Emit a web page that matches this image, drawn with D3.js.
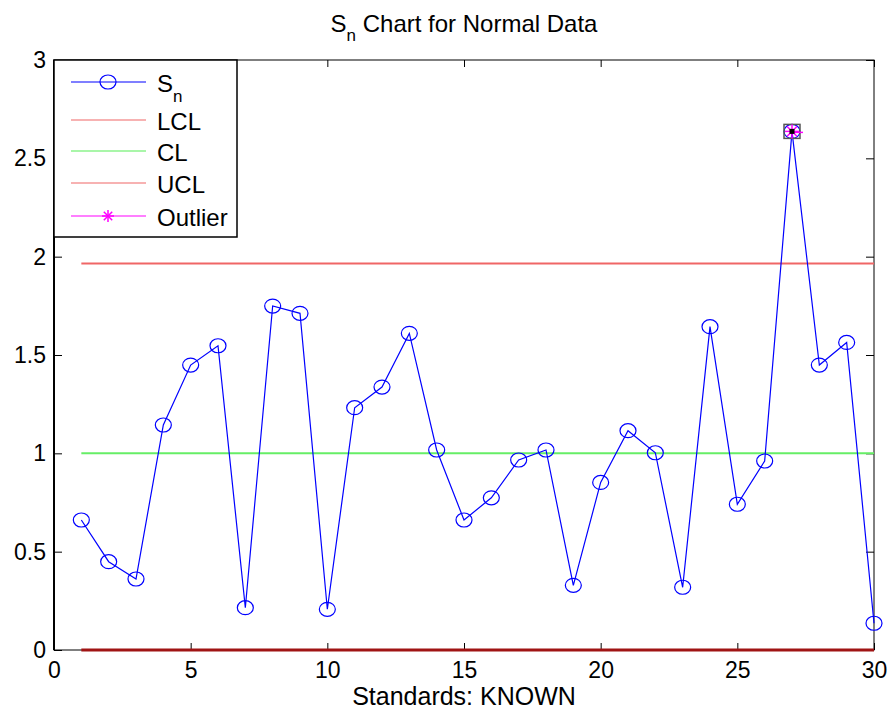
<!DOCTYPE html>
<html>
<head>
<meta charset="utf-8">
<script src="https://cdn.jsdelivr.net/npm/d3@7"></script>
<style>
  body { margin: 0; background: #fff; }
  svg text { font-family: "Liberation Sans", Arial, sans-serif; fill: #000; }
</style>
</head>
<body>
<div id="chart"></div>
<script>
// S_n values for each sample
var samples = d3.range(1, 31);
var snValues = [0.661, 0.449, 0.361, 1.144, 1.449, 1.547, 0.215, 1.749, 1.712, 0.207,
                1.232, 1.337, 1.610, 1.017, 0.661, 0.774, 0.966, 1.017, 0.329, 0.852,
                1.115, 1.003, 0.319, 1.644, 0.741, 0.961, 2.637, 1.449, 1.564, 0.136];
var lclValue = 0;
var clValue = 1;
var uclValue = 1.965;
var outlierSamples = [27];
var xTicks = [0, 5, 10, 15, 20, 25, 30];
var yTicks = [0, 0.5, 1, 1.5, 2, 2.5, 3];
var legendLabels = ["S", "LCL", "CL", "UCL", "Outlier"];

var svgWidth = 891;
var svgHeight = 711;
var margin = { top: 60, right: 17, bottom: 61, left: 54 };
var width = svgWidth - margin.left - margin.right;
var height = svgHeight - margin.top - margin.bottom;

var svg = d3.select("#chart")
  .append("svg")
  .attr("width", svgWidth)
  .attr("height", svgHeight);

var chartGroup = svg.append("g")
  .attr("transform", `translate(${margin.left}, ${margin.top})`);

var xScale = d3.scaleLinear().domain([0, 30]).range([0, width]);
var yScale = d3.scaleLinear().domain([0, 3]).range([height, 0]);

// axes with inward ticks (MATLAB style), on all four sides
var bottomAxis = d3.axisBottom(xScale).tickValues(xTicks).tickSizeInner(-7).tickSizeOuter(0).tickPadding(12);
var topAxis = d3.axisTop(xScale).tickValues(xTicks).tickSizeInner(-7).tickSizeOuter(0).tickFormat("");
var leftAxis = d3.axisLeft(yScale).tickValues(yTicks).tickSizeInner(-8).tickSizeOuter(0).tickPadding(8).tickFormat(d3.format("~g"));
var rightAxis = d3.axisRight(yScale).tickValues(yTicks).tickSizeInner(-8).tickSizeOuter(0).tickFormat("");

function styleAxis(g) {
  g.select(".domain").remove();
  g.selectAll("line").attr("stroke", "#000");
  g.selectAll("text").style("font-size", "23px").attr("fill", "#000");
}

chartGroup.append("g").attr("transform", `translate(0, ${height})`).call(bottomAxis).call(styleAxis);
chartGroup.append("g").call(topAxis).call(styleAxis);
chartGroup.append("g").call(leftAxis).call(styleAxis);
chartGroup.append("g").attr("transform", `translate(${width}, 0)`).call(rightAxis).call(styleAxis);

chartGroup.append("rect")
  .attr("x", 0).attr("y", 0)
  .attr("width", width).attr("height", height)
  .attr("fill", "none")
  .attr("stroke", "#000")
  .attr("stroke-width", 1);
chartGroup.append("line")
  .attr("x1", 0).attr("x2", 0).attr("y1", 0).attr("y2", height)
  .attr("stroke", "#000").attr("stroke-width", 2);

// control limit lines
var first = samples[0], last = samples[samples.length - 1];
function limitLine(v, color, w) {
  chartGroup.append("line")
    .attr("x1", xScale(first)).attr("x2", xScale(last))
    .attr("y1", yScale(v)).attr("y2", yScale(v))
    .attr("stroke", color).attr("stroke-width", w);
}
limitLine(clValue, "#66ee66", 2);
limitLine(uclValue, "#f06666", 2);
limitLine(lclValue, "#a01414", 3);

// S_n series
var lineGen = d3.line()
  .x((d, i) => xScale(samples[i]))
  .y(d => yScale(d));

chartGroup.append("path")
  .datum(snValues)
  .attr("d", lineGen)
  .attr("fill", "none")
  .attr("stroke", "#0000ff")
  .attr("stroke-width", 1.2);

chartGroup.selectAll(".snMarker")
  .data(snValues)
  .enter()
  .append("ellipse")
  .attr("class", "snMarker")
  .attr("cx", (d, i) => xScale(samples[i]))
  .attr("cy", d => yScale(d))
  .attr("rx", 8)
  .attr("ry", 7)
  .attr("fill", "none")
  .attr("stroke", "#0000ff")
  .attr("stroke-width", 1.2);

// asterisk marker helper
function asterisk(g, cx, cy, r) {
  var a = r * 0.7;
  var segs = [[-r, 0, r, 0], [0, -r, 0, r], [-a, -a, a, a], [-a, a, a, -a]];
  segs.forEach(function(s) {
    g.append("line")
      .attr("x1", cx + s[0]).attr("y1", cy + s[1])
      .attr("x2", cx + s[2]).attr("y2", cy + s[3])
      .attr("stroke", "#ff00ff").attr("stroke-width", 1.5);
  });
}

// outliers
outlierSamples.forEach(function(s) {
  var v = snValues[s - 1];
  var cx = xScale(s), cy = yScale(v);
  chartGroup.append("rect")
    .attr("x", cx - 8).attr("y", cy - 7)
    .attr("width", 16).attr("height", 14)
    .attr("fill", "none")
    .attr("stroke", "#555").attr("stroke-width", 1.5);
  asterisk(chartGroup, cx, cy, 7);
  chartGroup.append("line")
    .attr("x1", cx).attr("x2", cx + 11)
    .attr("y1", cy + 1).attr("y2", cy + 1)
    .attr("stroke", "#ff00ff").attr("stroke-width", 1.5);
  chartGroup.append("rect")
    .attr("x", cx - 2.5).attr("y", cy - 2.5)
    .attr("width", 5).attr("height", 5)
    .attr("fill", "#000");
});

// legend
var legend = chartGroup.append("g");
legend.append("rect")
  .attr("x", 0).attr("y", 0)
  .attr("width", 183).attr("height", 177)
  .attr("fill", "#fff")
  .attr("stroke", "#000")
  .attr("stroke-width", 1.5);

var legendColors = ["#0000ff", "#f06666", "#55ee55", "#f06666", "#ff00ff"];
var legendY = [22, 60, 91, 123, 156];
legendLabels.forEach(function(label, i) {
  var y = legendY[i];
  legend.append("line")
    .attr("x1", 17).attr("x2", 92)
    .attr("y1", y).attr("y2", y)
    .attr("stroke", legendColors[i]).attr("stroke-width", 1.2);
  if (i === 0) {
    legend.append("ellipse")
      .attr("cx", 54).attr("cy", y).attr("rx", 8).attr("ry", 7)
      .attr("fill", "none").attr("stroke", "#0000ff").attr("stroke-width", 1.2);
  }
  if (i === 4) {
    asterisk(legend, 54, y, 6);
  }
  var t = legend.append("text")
    .attr("x", 103).attr("y", y + 10)
    .style("font-size", "24px")
    .text(label);
  if (i === 0) {
    t.append("tspan").attr("dy", 10).style("font-size", "17px").text("n");
  }
});

// title
var title = svg.append("text")
  .attr("x", margin.left + width / 2)
  .attr("y", 32)
  .attr("text-anchor", "middle")
  .style("font-size", "24px");
title.append("tspan").text("S");
title.append("tspan").attr("dy", 9).style("font-size", "17px").text("n");
title.append("tspan").attr("dy", -9).text(" Chart for Normal Data");

// x axis label
svg.append("text")
  .attr("x", margin.left + width / 2)
  .attr("y", 705)
  .attr("text-anchor", "middle")
  .style("font-size", "25px")
  .text("Standards: KNOWN");
</script>
</body>
</html>
